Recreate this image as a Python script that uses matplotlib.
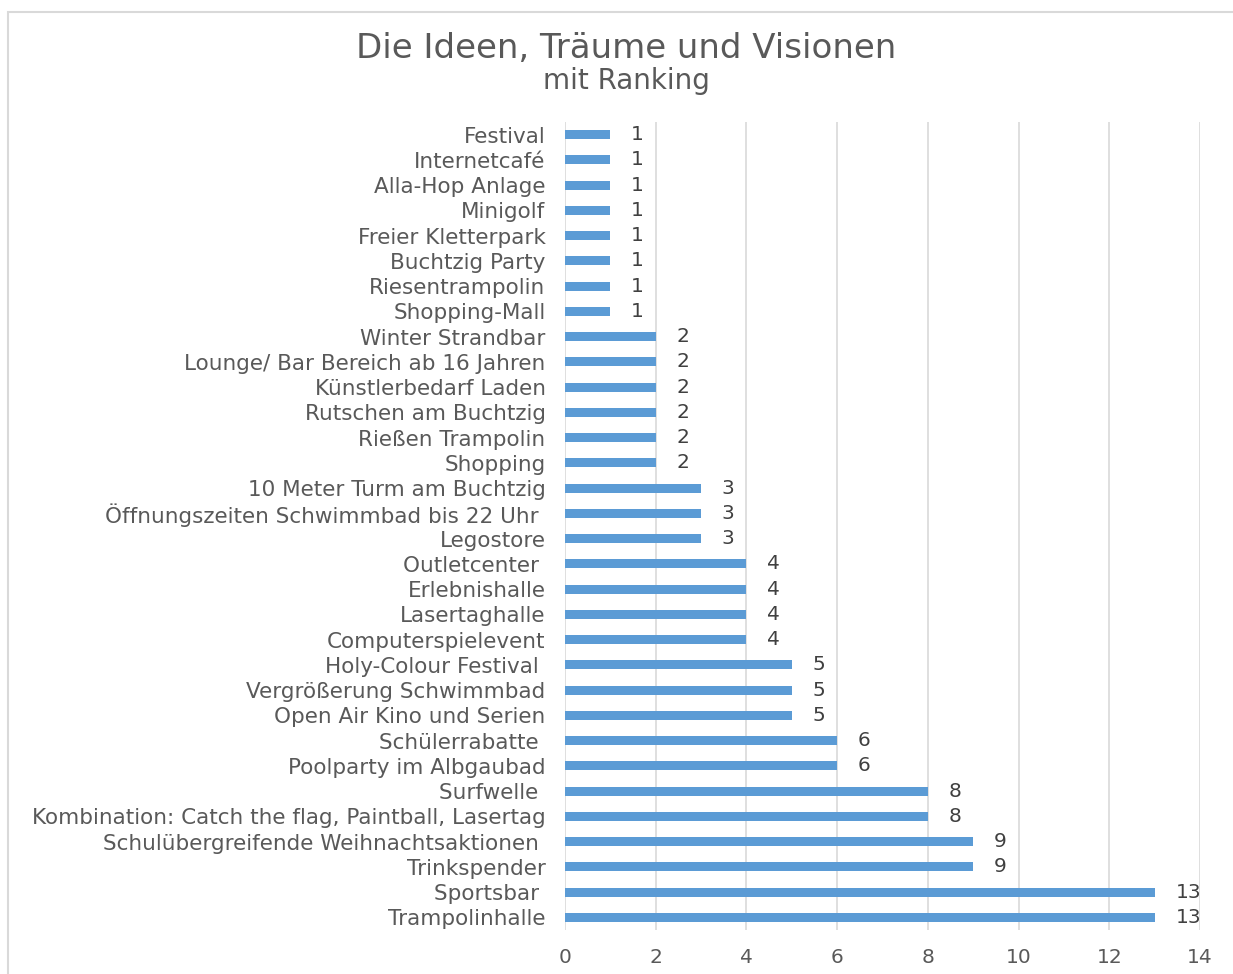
import matplotlib.pyplot as plt
from matplotlib.patches import Rectangle
import numpy as np

plt.rcParams['font.family'] = ['DejaVu Sans']

# categories top to bottom, as in the chart
ideas = ['Festival', 'Internetcafé', 'Alla-Hop Anlage', 'Minigolf',
         'Freier Kletterpark', 'Buchtzig Party', 'Riesentrampolin',
         'Shopping-Mall', 'Winter Strandbar', 'Lounge/ Bar Bereich ab 16 Jahren',
         'Künstlerbedarf Laden', 'Rutschen am Buchtzig', 'Rießen Trampolin',
         'Shopping', '10 Meter Turm am Buchtzig',
         'Öffnungszeiten Schwimmbad bis 22 Uhr ', 'Legostore', 'Outletcenter ',
         'Erlebnishalle', 'Lasertaghalle', 'Computerspielevent',
         'Holy-Colour Festival ', 'Vergrößerung Schwimmbad',
         'Open Air Kino und Serien', 'Schülerrabatte ', 'Poolparty im Albgaubad',
         'Surfwelle ', 'Kombination: Catch the flag, Paintball, Lasertag',
         'Schulübergreifende Weihnachtsaktionen ', 'Trinkspender', 'Sportsbar ',
         'Trampolinhalle']
votes = [1, 1, 1, 1, 1, 1, 1, 1, 2, 2, 2, 2, 2, 2, 3, 3, 3, 4, 4, 4, 4,
         5, 5, 5, 6, 6, 8, 8, 9, 9, 13, 13]
xticks = [0, 2, 4, 6, 8, 10, 12, 14]

grey = '#595959'
blue = '#5B9BD5'

fig = plt.figure(figsize=(12.33, 9.74), dpi=100)
ax = fig.add_axes([565 / 1233, 1 - 930 / 974, 635 / 1233, 808 / 974])

# outer chart frame (cut off at right and bottom like the screenshot)
fig.patches.append(Rectangle((8 / 1233, -0.1), 1.2, 1 - 12 / 974 + 0.1,
                             transform=fig.transFigure, fill=False,
                             edgecolor='#D9D9D9', linewidth=1.5))

y = np.arange(len(ideas))
ax.barh(y, votes, height=0.36, color=blue, zorder=3)
for yi, v in zip(y, votes):
    ax.annotate(str(v), (v, yi), xytext=(15, 0), textcoords='offset points',
                va='center', ha='left', fontsize=14.5, color='#404040')

ax.set_ylim(len(ideas) - 0.5, -0.5)
ax.set_xlim(0, 14)
ax.set_xticks(xticks)
ax.set_yticks(y)
ax.set_yticklabels(ideas)
ax.tick_params(axis='y', length=0, pad=14, labelsize=15.5, labelcolor=grey)
ax.tick_params(axis='x', length=0, pad=13, labelsize=14.5, labelcolor=grey)
ax.grid(axis='x', color='#D9D9D9', linewidth=1.2, zorder=0)
for s in ax.spines.values():
    s.set_visible(False)

fig.text(626 / 1233, 1 - 48 / 974, 'Die Ideen, Träume und Visionen',
         ha='center', va='center', fontsize=24.5, color=grey)
fig.text(626 / 1233, 1 - 81 / 974, 'mit Ranking',
         ha='center', va='center', fontsize=20, color=grey)

fig.savefig('out.png', dpi=100)
